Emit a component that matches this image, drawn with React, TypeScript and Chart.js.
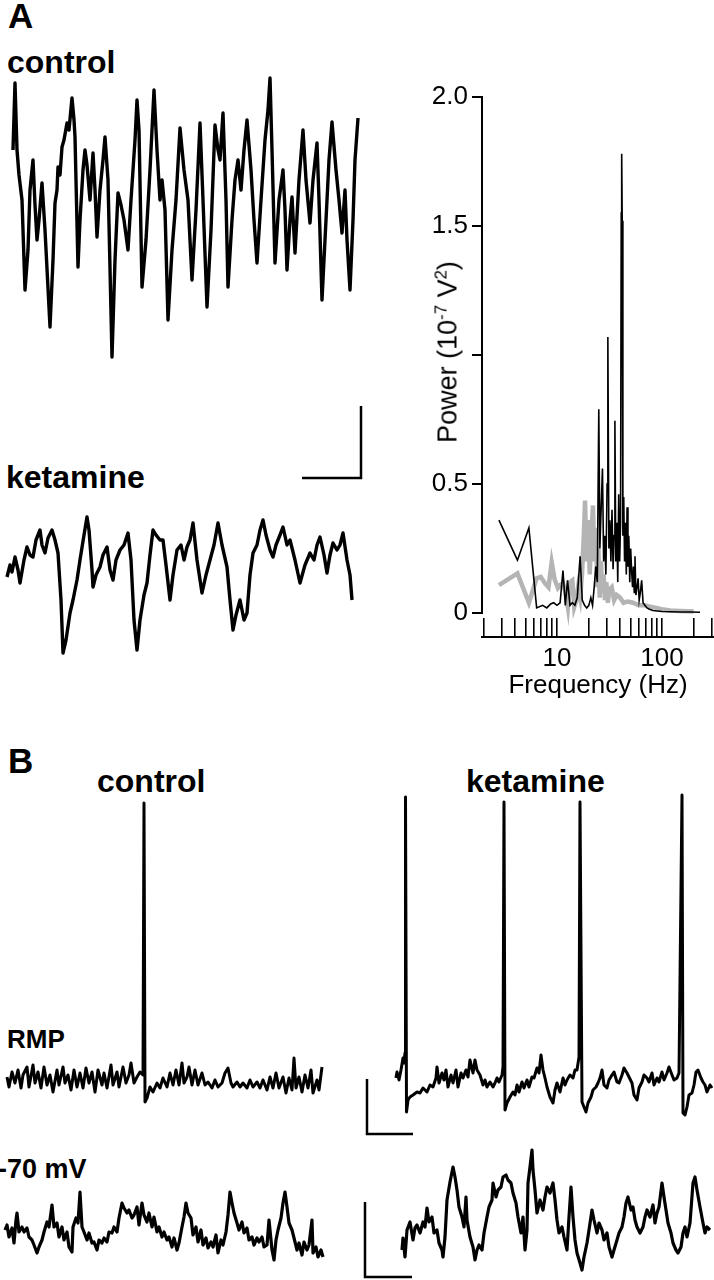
import React, { useEffect, useRef } from "react";
import { Chart, registerables } from "chart.js";

Chart.register(...registerables);

type Pt = [number, number];

const FONT = "'Liberation Sans', Arial, Helvetica, sans-serif";

// ---------- Panel A: membrane potential traces (time, amplitude) ----------
const traceAControl: Pt[] = [
  [0, 65], [2, 132], [4, 65], [6, 40], [9, 15], [12, -75], [15, -35], [17, 25], [20, 55], [22, 10],
  [24, -25], [26, -5], [29, 32], [32, -15], [37, -112], [40, -45], [42, 12], [44, 25], [45, 48], [47, 40],
  [49, 68], [51, 75], [54, 92], [56, 85], [59, 117], [61, 95], [62, 78], [65, -52], [67, -5], [70, 45],
  [72, 65], [74, 50], [77, 15], [80, 62], [82, 25], [84, -22], [87, 25], [90, 55], [92, 78], [95, 35],
  [99, -142], [102, -45], [105, 22], [108, 10], [111, -5], [115, -35], [118, 15], [122, 75], [124, 115], [126, 85],
  [129, -72], [133, -25], [137, 45], [141, 125], [144, 65], [147, 15], [149, 35], [152, 5], [155, -105], [159, -35],
  [163, 15], [167, 87], [171, 45], [175, 15], [179, -65], [183, 5], [187, 92], [190, 15], [194, -92], [198, -15],
  [202, 90], [205, 65], [207, 55], [210, 102], [213, 15], [215, -72], [219, -5], [222, 35], [225, 55], [228, 25],
  [231, 65], [234, 95], [238, 45], [241, -5], [244, -48], [248, 15], [252, 75], [255, 105], [257, 137], [259, 65],
  [262, -48], [266, 15], [270, 45], [272, 5], [274, -55], [277, -5], [279, 18], [282, -38], [286, 35], [290, 85],
  [293, 35], [297, -8], [300, 35], [304, 72], [306, 15], [309, -85], [313, -5], [316, 55], [319, 93], [323, 45],
  [326, 15], [329, -18], [332, 25], [334, -25], [337, -75], [340, -5], [342, 55], [345, 97],
];

const traceAKetamine: Pt[] = [
  [0, -17], [3, -5], [5, -12], [8, 3], [11, -10], [13, -23], [17, 0], [20, 13], [23, 5], [26, 3],
  [29, 20], [33, 30], [35, 15], [38, 7], [41, 22], [45, 30], [48, 20], [51, 7], [54, -40], [56, -93],
  [59, -80], [63, -53], [66, -40], [70, -20], [73, 0], [77, 25], [80, 43], [82, 30], [85, -10], [86, -27],
  [89, -15], [93, -7], [96, 5], [100, 13], [103, -10], [106, -20], [109, 0], [113, 10], [117, 15], [121, 27],
  [124, 0], [127, -60], [130, -90], [133, -60], [137, -35], [140, -23], [143, 5], [146, 30], [149, 25], [153, 20],
  [156, 20], [159, -5], [163, -40], [166, -15], [170, 10], [174, 15], [177, 0], [180, 13], [183, 20], [186, 37],
  [190, 0], [195, -33], [199, -15], [203, 0], [207, 15], [211, 37], [215, 15], [220, -7], [223, -40], [226, -70],
  [229, -55], [233, -40], [237, -60], [240, -53], [243, -15], [246, 7], [250, 15], [253, 30], [256, 40], [259, 25],
  [263, 10], [266, 3], [269, 15], [273, 25], [276, 33], [280, 15], [283, 20], [288, 0], [293, -23], [298, -5],
  [303, 7], [307, 0], [310, 15], [313, 23], [317, 5], [320, -13], [323, 5], [326, 17], [330, 10], [333, 15],
  [336, 27], [340, 0], [343, -15], [345, -40],
];

// scale bar of panel A (time, amplitude), drawn in the control trace's units
const scaleBarA: Pt[] = [[289, -263], [348, -263], [348, -191]];

// ---------- Panel A: power spectra ----------
const freqControl = [
  2.8, 4.2, 5.4, 6.4, 7.3, 8.0, 8.7, 9.3, 10.0, 10.7, 11.4, 12.0, 12.6, 13.3, 14.0, 14.8, 15.6, 16.6, 17.4, 18.3,
  19.2, 20.1, 21.0, 21.8, 22.6, 23.4, 24.2, 25.0, 25.6, 26.3, 27.1, 27.8, 28.5, 29.2, 30.0, 30.5, 31.2, 31.9, 32.6, 33.4,
  34.2, 35.0, 35.6, 36.3, 37.1, 37.9, 38.7, 39.5, 40.3, 40.9, 41.3, 41.8, 42.4, 43.2, 44.0, 44.9, 45.7, 46.5, 47.4, 48.3,
  49.3, 50.3, 51.4, 52.4, 53.4, 54.4, 55.3, 56.4, 57.8, 59.2, 60.6, 62.2, 64.0, 66.0, 68.7, 72.0, 76.0, 82.0, 90.0, 100,
  120, 150, 190, 230,
];
const powerControl = [
  0.36, 0.205, 0.33, 0.02, 0.03, 0.02, 0.035, 0.04, 0.03, 0.04, 0.165, 0.03, 0.127, 0.03, 0.04, 0.03, 0.06, 0.22, 0.05, 0.03,
  0.02, 0.03, 0.06, 0.03, 0.1, 0.18, 0.12, 0.79, 0.25, 0.4, 0.56, 0.2, 0.3, 0.15, 0.5, 1.07, 0.25, 0.36, 0.2, 0.4,
  0.17, 0.3, 0.745, 0.2, 0.35, 0.12, 0.46, 0.2, 0.35, 1.55, 1.78, 1.52, 0.3, 0.45, 0.2, 0.35, 0.15, 0.41, 0.18, 0.3,
  0.12, 0.25, 0.16, 0.1, 0.18, 0.08, 0.22, 0.07, 0.1, 0.135, 0.05, 0.08, 0.127, 0.04, 0.03, 0.02, 0.015, 0.01, 0.008, 0.006,
  0.005, 0.004, 0.004, 0.003,
];
const freqKetamine = [
  2.8, 4.2, 5.4, 6.4, 7.0, 7.7, 8.3, 8.9, 9.5, 10.2, 10.8, 11.4, 12.1, 12.7, 13.3, 14.0, 14.6, 15.3, 15.9, 16.6,
  17.3, 18.0, 18.5, 19.1, 19.8, 20.5, 21.2, 22.0, 22.7, 23.4, 24.2, 24.8, 25.5, 26.2, 27.0, 27.8, 28.6, 29.5, 30.5, 31.5,
  33.2, 35.0, 37.0, 39.8, 43.0, 47.0, 53.0, 60.0, 68.0, 77.0, 88.0, 99.0, 120, 150, 200,
];
const powerKetamine = [
  0.108, 0.154, 0.04, 0.135, 0.14, 0.115, 0.1, 0.197, 0.13, 0.097, 0.11, 0.115, 0.08, 0.023, 0.12, 0.127, 0.023, 0.05, 0.1, 0.06,
  0.15, 0.3, 0.436, 0.2, 0.36, 0.15, 0.3, 0.417, 0.2, 0.33, 0.1, 0.25, 0.06, 0.2, 0.08, 0.15, 0.05, 0.12, 0.04, 0.09,
  0.1, 0.05, 0.07, 0.06, 0.04, 0.045, 0.04, 0.03, 0.03, 0.025, 0.02, 0.015, 0.01, 0.008, 0.006,
];
const freqTicks = [2, 3, 4, 5, 6, 7, 8, 9, 10, 20, 30, 40, 50, 60, 70, 80, 90, 100, 200, 300];
const freqTickLabels = ["", "", "", "", "", "", "", "", "10", "", "", "", "", "", "", "", "", "100", "", ""];
const powerTicks = [0, 0.5, 1.0, 1.5, 2.0];
// the 1.0 label is hidden behind the axis title in the original figure
const powerTickLabels = ["0", "0.5", "", "1.5", "2.0"];

// ---------- Panel B: traces (time, amplitude) ----------
const traceRmpControl: Pt[] = [
  [0, 3], [2, -7], [5, 8], [8, -3], [11, 10], [14, -8], [16, 5], [20, 13], [22, -7], [26, 15],
  [28, -3], [31, 8], [34, -8], [37, 13], [40, -5], [43, 5], [46, -12], [50, 10], [52, -5], [56, 13],
  [58, -3], [61, 5], [64, -10], [67, 10], [70, -7], [73, 7], [76, -8], [79, 12], [82, -3], [85, 8],
  [88, -12], [91, 10], [95, -5], [97, 7], [100, -8], [104, 15], [106, -5], [110, 8], [112, -7], [116, 13],
  [119, -3], [122, 5], [124, 17], [127, -3], [130, 3], [133, 8], [136, 5], [137, 277], [138, -22], [140, -18],
  [143, -7], [146, -12], [150, -3], [153, -8], [156, 2], [160, -7], [163, 7], [166, -5], [169, 10], [172, -5],
  [175, 17], [177, -3], [180, 3], [182, 13], [185, -5], [188, 10], [191, -5], [195, 7], [198, -5], [201, -2],
  [205, -8], [208, 0], [211, -7], [215, -3], [218, 7], [221, 12], [224, -3], [226, -7], [230, -2], [233, -7],
  [236, -3], [240, -8], [243, 0], [246, -7], [250, -2], [253, -8], [256, 0], [260, -10], [263, 3], [266, -8],
  [269, 7], [272, -8], [276, 3], [279, -13], [282, 2], [285, -10], [287, 22], [289, -8], [292, 3], [295, -12],
  [298, 5], [301, -8], [304, 10], [306, -13], [310, 0], [312, -10], [315, 13],
];

const traceRmpKetamine: Pt[] = [
  [0, 9], [1, 15], [3, 7], [5, 17], [7, 29], [8, 24], [9, 34], [9.5, 290], [10.5, -25], [12, -13],
  [14, -10], [17, -8], [21, -5], [24, -6], [27, -1], [31, -5], [34, 2], [37, 0], [40, 9], [41, 20],
  [43, 4], [46, 14], [48, 7], [50, 17], [52, 0], [55, 12], [57, 4], [60, 17], [62, 0], [65, 14],
  [67, 9], [70, 17], [72, 10], [74, 27], [77, 14], [79, 27], [81, 17], [84, 12], [87, 2], [89, 7],
  [91, 0], [94, 5], [97, 0], [99, 4], [101, 9], [103, 5], [106, 12], [107, 20], [108, 285], [109, -23],
  [111, -16], [114, -10], [117, -5], [119, -8], [121, 2], [123, -5], [126, 5], [128, -1], [131, 7], [133, 0],
  [136, 10], [138, 9], [141, 19], [143, 14], [145, 32], [147, 17], [149, 9], [151, 0], [154, -10], [157, -16],
  [159, -3], [161, 4], [164, -5], [167, 9], [169, 2], [171, 7], [174, 12], [177, 9], [179, 17], [181, 17],
  [183, 30], [184, 285], [186, -15], [188, -20], [190, -25], [192, -16], [195, -10], [197, -3], [200, 0], [202, 4],
  [204, 9], [206, 17], [208, 2], [211, -1], [213, 7], [216, 12], [218, 15], [221, 5], [223, 4], [226, 12],
  [228, 19], [231, 14], [233, 10], [236, 4], [238, -8], [241, -13], [243, -1], [246, 5], [248, 12], [251, 9],
  [253, 5], [256, 14], [258, 2], [261, 9], [263, 5], [266, 15], [268, 7], [271, 14], [273, 20], [276, 12],
  [278, 7], [281, 9], [283, 14], [286, 292], [287, -26], [289, -28], [291, -20], [293, -8], [296, -6], [298, 2],
  [300, 15], [302, 17], [305, 9], [307, 5], [309, 2], [311, -5], [314, 2], [316, -1],
];
const scaleBarRmp: Pt[] = [[-29, 8], [-29, -47], [17, -47]];

const traceHypControl: Pt[] = [
  [0, 3], [2, 8], [4, -4], [7, 5], [9, -10], [11, 13], [12, 20], [14, 1], [17, 6], [19, 1],
  [22, 5], [24, -4], [27, -7], [29, -12], [32, -20], [34, -14], [37, -7], [39, 1], [42, 11], [44, 6],
  [47, 28], [49, 6], [52, 10], [54, -4], [57, 6], [59, -7], [62, 1], [64, -14], [67, -19], [68, 6],
  [71, 15], [73, 10], [75, 41], [77, 6], [79, 1], [82, -7], [84, 0], [87, -10], [89, -9], [92, -17],
  [94, -7], [97, -10], [99, -5], [102, -9], [104, 1], [107, 0], [109, 6], [112, 1], [114, 15], [117, 30],
  [119, 25], [122, 20], [124, 23], [127, 15], [129, 18], [132, 26], [134, 8], [137, 30], [139, 18], [142, 11],
  [144, 20], [147, 6], [149, 16], [152, 1], [154, 6], [157, -4], [159, 1], [162, -7], [164, -4], [167, -14],
  [169, -5], [172, -17], [174, -10], [177, 6], [179, 16], [181, 30], [183, 20], [186, 15], [188, -2], [191, 6],
  [193, -9], [196, 3], [198, -12], [201, -5], [203, -15], [206, -9], [208, -14], [211, -2], [213, -20], [216, -7],
  [218, -12], [221, 1], [223, 18], [225, 41], [227, 30], [229, 20], [232, 10], [234, 3], [237, 11], [239, 0],
  [242, 5], [244, -7], [247, -4], [249, -12], [252, -5], [254, -9], [257, -4], [259, -14], [262, -12], [264, 13],
  [267, -17], [269, -27], [271, -7], [273, 3], [276, 15], [278, 30], [280, 41], [282, 26], [284, 10], [287, 3],
  [289, -5], [292, -17], [294, -10], [297, -22], [299, -9], [302, -17], [304, -12], [307, 13], [308, -20], [311, -14],
  [313, -24], [316, -17], [318, -24],
];

const traceHypKetamine: Pt[] = [
  [0, -20], [1, -8], [3, -27], [5, 0], [8, 8], [11, -10], [13, 2], [15, 5], [18, -3], [21, 8],
  [23, 3], [25, 22], [27, 8], [30, 13], [32, -3], [35, 0], [37, -13], [40, -20], [41, -27], [43, -7],
  [45, 30], [48, 48], [51, 63], [53, 53], [55, 40], [57, 23], [60, 13], [62, 3], [64, 33], [65, 10],
  [68, -7], [71, -17], [73, -30], [75, -20], [77, -15], [80, -20], [82, -3], [85, 13], [87, 23], [90, 30],
  [91, 47], [94, 33], [96, 40], [99, 43], [101, 53], [104, 55], [106, 50], [109, 47], [111, 37], [114, 27],
  [116, 13], [119, -3], [121, 13], [123, -20], [125, 0], [126, 47], [128, 63], [130, 80], [131, 60], [133, 40],
  [135, 17], [138, 30], [141, 20], [143, 33], [145, 43], [148, 37], [151, 47], [153, 30], [155, 10], [157, -3],
  [160, 3], [162, -7], [165, -20], [167, 13], [169, 43], [171, 13], [173, -10], [175, -23], [178, -33], [180, -40],
  [182, -27], [185, -13], [187, 0], [190, 20], [192, 10], [195, -3], [197, 7], [200, 0], [202, -10], [205, -3],
  [207, -17], [210, -27], [212, -20], [215, -10], [217, -3], [220, 3], [222, 13], [224, 27], [226, 33], [229, 20],
  [231, 23], [233, 10], [235, 3], [238, -3], [241, 3], [243, 13], [245, 20], [248, 13], [251, 25], [253, 7],
  [255, 17], [257, 23], [260, 47], [262, 33], [264, 20], [266, 7], [269, -3], [271, -13], [274, -20], [276, -23],
  [279, -17], [281, -3], [283, 3], [285, -7], [288, 7], [291, 47], [293, 53], [295, 40], [298, 23], [301, 7],
  [303, -3], [305, 3], [308, 0],
];
const scaleBarHyp: Pt[] = [[-37, 28], [-37, -47], [10, -47]];

// ---------- components ----------
type TraceProps = {
  points: Pt[];
  bar?: Pt[];
  left: number;
  top: number;
  width: number;
  height: number;
  tMin: number;
  tMax: number;
  vMin: number;
  vMax: number;
  lw: number;
};

function Trace(props: TraceProps) {
  const ref = useRef<HTMLCanvasElement>(null);
  useEffect(() => {
    const datasets: any[] = [
      {
        data: props.points.map(([x, y]) => ({ x, y })),
        borderColor: "#000",
        borderWidth: props.lw,
        pointRadius: 0,
        tension: 0,
        fill: false,
        borderJoinStyle: "round",
      },
    ];
    if (props.bar) {
      datasets.push({
        data: props.bar.map(([x, y]) => ({ x, y })),
        borderColor: "#000",
        borderWidth: 2.5,
        pointRadius: 0,
        tension: 0,
        fill: false,
        borderJoinStyle: "miter",
      });
    }
    const chart = new Chart(ref.current as HTMLCanvasElement, {
      type: "line",
      data: { datasets },
      options: {
        animation: false,
        responsive: false,
        devicePixelRatio: 1,
        events: [],
        layout: { padding: 0 },
        plugins: { legend: { display: false }, tooltip: { enabled: false } },
        scales: {
          x: { type: "linear", display: false, min: props.tMin, max: props.tMax },
          y: { type: "linear", display: false, min: props.vMin, max: props.vMax },
        },
      },
    });
    return () => chart.destroy();
  }, []);
  return (
    <canvas
      ref={ref}
      width={props.width}
      height={props.height}
      style={{ position: "absolute", left: props.left, top: props.top, width: props.width, height: props.height }}
    />
  );
}

const yAxisLinePlugin = {
  id: "yAxisLine",
  beforeDatasetsDraw(chart: any) {
    const y = chart.scales.y;
    const ctx = chart.ctx;
    const x = chart.chartArea.left;
    ctx.save();
    ctx.strokeStyle = "#000";
    ctx.lineWidth = 2;
    ctx.beginPath();
    ctx.moveTo(x, y.getPixelForValue(powerTicks[powerTicks.length - 1]) - 1);
    ctx.lineTo(x, y.getPixelForValue(powerTicks[0]) + 1);
    ctx.stroke();
    ctx.restore();
  },
};

function Spectrum() {
  const ref = useRef<HTMLCanvasElement>(null);
  useEffect(() => {
    const tickFont = { family: FONT, size: 26, lineHeight: 1.2 };
    const chart = new Chart(ref.current as HTMLCanvasElement, {
      type: "line",
      data: {
        datasets: [
          {
            label: "control",
            data: freqControl.map((f, i) => ({ x: f, y: powerControl[i] })),
            borderColor: "#000",
            borderWidth: 1.6,
            pointRadius: 0,
            tension: 0,
            fill: false,
          },
          {
            label: "ketamine",
            data: freqKetamine.map((f, i) => ({ x: f, y: powerKetamine[i] })),
            borderColor: "#b4b4b4",
            borderWidth: 4.5,
            pointRadius: 0,
            tension: 0,
            fill: false,
          },
        ],
      },
      options: {
        animation: false,
        responsive: false,
        devicePixelRatio: 1,
        events: [],
        layout: { padding: { left: 0, right: 0, top: 15, bottom: 0 } },
        plugins: { legend: { display: false }, tooltip: { enabled: false } },
        scales: {
          x: {
            type: "logarithmic",
            min: 1.931,
            max: 312.7,
            afterBuildTicks: (s: any) => {
              s.ticks = freqTicks.map((v) => ({ value: v }));
            },
            afterFit: (s: any) => {
              s.height = 65;
              s.paddingLeft = 0;
              s.paddingRight = 0;
            },
            border: { display: true, color: "#000", width: 2 },
            grid: { display: true, drawOnChartArea: false, drawTicks: true, tickLength: -19, color: "#000", lineWidth: 1.6 },
            ticks: {
              autoSkip: false,
              maxRotation: 0,
              minRotation: 0,
              padding: 25,
              color: "#000",
              font: tickFont,
              callback: (_v: any, i: number) => freqTickLabels[i],
            },
            title: {
              display: true,
              text: "Frequency (Hz)",
              color: "#000",
              font: { family: FONT, size: 26, lineHeight: 1.2 },
              padding: { top: 0, bottom: 1 },
            },
          },
          y: {
            type: "linear",
            min: -0.0927,
            max: 2.0,
            afterBuildTicks: (s: any) => {
              s.ticks = powerTicks.map((v) => ({ value: v }));
            },
            afterFit: (s: any) => {
              s.width = 62;
            },
            border: { display: false },
            grid: { display: true, drawOnChartArea: false, drawTicks: true, tickLength: 10, color: "#000", lineWidth: 2 },
            ticks: {
              padding: 4,
              color: "#000",
              font: { family: FONT, size: 26, lineHeight: 1 },
              callback: (_v: any, i: number) => powerTickLabels[i],
            },
          },
        },
      },
      plugins: [yAxisLinePlugin],
    });
    return () => chart.destroy();
  }, []);
  return (
    <canvas
      ref={ref}
      width={294}
      height={622}
      style={{ position: "absolute", left: 420, top: 80, width: 294, height: 622 }}
    />
  );
}

function Label(props: { text: string; left: number; top: number; size: number; bold?: boolean }) {
  return (
    <div
      style={{
        position: "absolute",
        left: props.left,
        top: props.top,
        fontFamily: FONT,
        fontSize: props.size,
        fontWeight: props.bold === false ? 400 : 700,
        lineHeight: 1,
        whiteSpace: "nowrap",
        color: "#000",
      }}
    >
      {props.text}
    </div>
  );
}

const supStyle: React.CSSProperties = { fontSize: "0.62em", verticalAlign: "0.6em", lineHeight: 0 };

export default function App() {
  return (
    <div
      style={{
        position: "absolute",
        left: 0,
        top: 0,
        width: 714,
        height: 1280,
        background: "#fff",
        overflow: "hidden",
      }}
    >
      <Label text="A" left={8} top={-2} size={35} />
      <Label text="control" left={7} top={46} size={32} />
      <Label text="ketamine" left={6} top={461} size={32} />

      <Trace points={traceAControl} bar={scaleBarA} left={3} top={75} width={365} height={410}
        tMin={-10} tMax={355} vMin={-270} vMax={140} lw={3.4} />
      <Trace points={traceAKetamine} left={0} top={505} width={365} height={160}
        tMin={-7} tMax={358} vMin={-105} vMax={55} lw={3.4} />

      <Spectrum />
      <div
        style={{
          position: "absolute",
          left: 448,
          top: 352,
          transform: "translate(-50%, -50%) rotate(-90deg)",
          fontFamily: FONT,
          fontSize: 27,
          lineHeight: 1,
          whiteSpace: "nowrap",
          color: "#000",
        }}
      >
        Power (10<sup style={supStyle}>-7</sup> V<sup style={supStyle}>2</sup>)
      </div>

      <Label text="B" left={8} top={743} size={35} />
      <Label text="control" left={97} top={765} size={32} />
      <Label text="ketamine" left={466} top={765} size={32} />
      <Label text="RMP" left={7} top={1026} size={26} />
      <Label text="-70 mV" left={-2} top={1156} size={27} />

      <Trace points={traceRmpControl} left={0} top={790} width={330} height={320}
        tMin={-7} tMax={323} vMin={-30} vMax={290} lw={3} />
      <Trace points={traceRmpKetamine} bar={scaleBarRmp} left={360} top={785} width={354} height={355}
        tMin={-36} tMax={318} vMin={-53} vMax={302} lw={3} />
      <Trace points={traceHypControl} left={0} top={1170} width={340} height={110}
        tMin={-5} tMax={335} vMin={-47} vMax={63} lw={3.2} />
      <Trace points={traceHypKetamine} bar={scaleBarHyp} left={360} top={1145} width={354} height={135}
        tMin={-42} tMax={312} vMin={-50} vMax={85} lw={3.2} />
    </div>
  );
}
